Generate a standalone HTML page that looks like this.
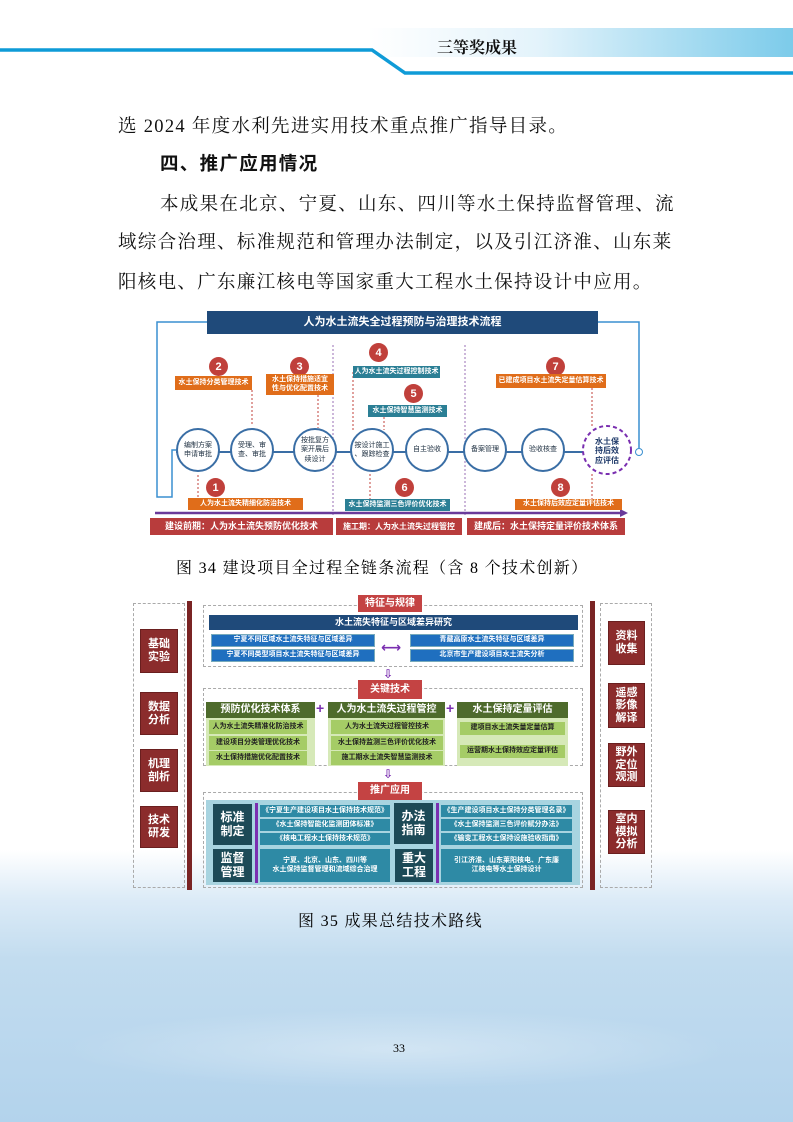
<!DOCTYPE html>
<html><head><meta charset="utf-8"><style>
*{margin:0;padding:0;box-sizing:border-box}
body{width:793px;height:1122px;position:relative;overflow:hidden;background:#fff;font-family:"Liberation Serif","Noto Serif CJK SC",serif}
.a{position:absolute}
.t{position:absolute;font-size:18.5px;color:#111;letter-spacing:1.3px;white-space:nowrap}
.s{font-family:"Liberation Sans","Noto Sans CJK SC",sans-serif;font-weight:bold;display:flex;align-items:center;justify-content:center;text-align:center;color:#fff;line-height:1.15}
.or{background:#e06d1a;font-size:7px}
.tl{background:#2b7f95;font-size:7px}
.num{position:absolute;width:19px;height:19px;border-radius:50%;background:#c0403b;color:#fff;font:bold 11px "Liberation Sans",sans-serif;display:flex;align-items:center;justify-content:center}
.cir{position:absolute;width:44px;height:44px;border-radius:50%;border:2.5px solid #3a6ea5;font:7px "Liberation Sans","Noto Sans CJK SC",sans-serif;color:#234;display:flex;align-items:center;justify-content:center;text-align:center;line-height:1.3;background:#fff}
.rb{background:#8b2c2c;font-size:11px;border:1px solid #6a1f1f}
.bl{background:#1f6fbf;font-size:7px;border:1px solid #7ab}
.gh{background:#4e6b2c;font-size:10px}
.lg{background:#a5cc66;color:#222;font-size:7px}
.dk{background:#1d4a57;font-size:12px}
.tb{background:#2e8aa5;font-size:7px}
.dot{position:absolute;border:1px dashed #aaa}
.tag{background:#c44343;font-size:10px}
</style></head><body>
<!-- bottom water -->
<div class="a" style="left:0;top:850px;width:793px;height:272px;background:linear-gradient(180deg,#ffffff 0%,#dcebf7 18%,#c2dcef 40%,#b3d3ec 100%)"></div>
<div class="a" style="left:0;top:960px;width:793px;height:162px;background:radial-gradient(ellipse 60% 35% at 50% 55%,rgba(255,255,255,.35),rgba(255,255,255,0) 70%)"></div>
<!-- header -->
<div class="a" style="left:368px;top:28px;width:425px;height:29px;background:linear-gradient(90deg,#fff,#e3f3fb 40%,#7ccbea)"></div>
<div class="a" style="left:437px;top:35px;font-size:16px;font-weight:bold;color:#111">三等奖成果</div>
<svg class="a" style="left:0;top:0" width="793" height="90"><polyline points="0,50 372,50 405,73 793,73" fill="none" stroke="#0f9bd7" stroke-width="3.5"/></svg>
<div class="a" style="left:393px;top:1041px;font-size:12px">33</div>
<!-- text -->
<div class="t" style="left:118px;top:112px">选 2024 年度水利先进实用技术重点推广指导目录。</div>
<div class="t" style="left:160px;top:150px;font-weight:bold;font-family:'Liberation Sans','Noto Sans CJK SC',sans-serif">四、推广应用情况</div>
<div class="t" style="left:160px;top:190px">本成果在北京、宁夏、山东、四川等水土保持监督管理、流</div>
<div class="t" style="left:118px;top:228px">域综合治理、标准规范和管理办法制定，以及引江济淮、山东莱</div>
<div class="t" style="left:118px;top:268px">阳核电、广东廉江核电等国家重大工程水土保持设计中应用。</div>
<!-- Fig 34 -->
<svg class="a" style="left:0;top:0" width="793" height="560">
<polyline points="207,322 157,322 157,497 172,497 172,450 176,450" fill="none" stroke="#3a8fd0" stroke-width="1.5"/>
<polyline points="598,322 639,322 639,448" fill="none" stroke="#3a8fd0" stroke-width="1.5"/>
<circle cx="639" cy="452" r="3.5" fill="#fff" stroke="#3a8fd0"/>
<line x1="333" y1="345" x2="333" y2="515" stroke="#9a6fb5" stroke-dasharray="2,2"/>
<line x1="465" y1="345" x2="465" y2="515" stroke="#9a6fb5" stroke-dasharray="2,2"/>
<line x1="155" y1="513" x2="622" y2="513" stroke="#6a3a9a" stroke-width="2.5"/>
<polygon points="628,513 620,509 620,517" fill="#6a3a9a"/>
<line x1="176" y1="452" x2="600" y2="452" stroke="#3a6ea5" stroke-width="2"/>
<circle cx="607" cy="450" r="24" fill="#fff" stroke="#7a2fb0" stroke-width="2" stroke-dasharray="4,3"/>
<g stroke="#c0403b" stroke-dasharray="2,2" fill="none">
<line x1="252" y1="390" x2="252" y2="426"/><line x1="318" y1="395" x2="318" y2="428"/>
<line x1="353" y1="372" x2="353" y2="432"/><line x1="384" y1="417" x2="384" y2="430"/>
<line x1="198" y1="475" x2="198" y2="498"/><line x1="370" y1="474" x2="370" y2="500"/>
<line x1="592" y1="388" x2="592" y2="426"/><line x1="592" y1="474" x2="592" y2="500"/></g>
</svg>
<div class="a s" style="left:207px;top:311px;width:391px;height:23px;background:#1f4a7a;font-size:11px">人为水土流失全过程预防与治理技术流程</div>
<div class="cir" style="left:176px;top:428px">编制方案<br>申请审批</div>
<div class="cir" style="left:230px;top:428px">受理、审<br>查、审批</div>
<div class="cir" style="left:293px;top:428px">按批复方<br>案开展后<br>续设计</div>
<div class="cir" style="left:350px;top:428px">按设计施工<br>、跟踪检查</div>
<div class="cir" style="left:405px;top:428px">自主验收</div>
<div class="cir" style="left:463px;top:428px">备案管理</div>
<div class="cir" style="left:521px;top:428px">验收核查</div>
<div class="a s" style="left:587px;top:432px;width:40px;height:38px;color:#1f3a6a;font-size:8px;font-weight:bold">水土保<br>持后效<br>应评估</div>
<div class="num" style="left:206px;top:478px">1</div>
<div class="num" style="left:209px;top:357px">2</div>
<div class="num" style="left:290px;top:357px">3</div>
<div class="num" style="left:369px;top:343px">4</div>
<div class="num" style="left:404px;top:384px">5</div>
<div class="num" style="left:395px;top:478px">6</div>
<div class="num" style="left:546px;top:357px">7</div>
<div class="num" style="left:551px;top:478px">8</div>
<div class="a s or" style="left:188px;top:498px;width:115px;height:12px">人为水土流失精细化防治技术</div>
<div class="a s or" style="left:175px;top:376px;width:77px;height:14px">水土保持分类管理技术</div>
<div class="a s or" style="left:266px;top:374px;width:68px;height:21px">水土保持措施适宜<br>性与优化配置技术</div>
<div class="a s tl" style="left:353px;top:366px;width:87px;height:12px">人为水土流失过程控制技术</div>
<div class="a s tl" style="left:368px;top:405px;width:79px;height:12px">水土保持智慧监测技术</div>
<div class="a s tl" style="left:345px;top:499px;width:105px;height:12px">水土保持监测三色评价优化技术</div>
<div class="a s or" style="left:496px;top:374px;width:110px;height:14px">已建成项目水土流失定量估算技术</div>
<div class="a s or" style="left:515px;top:499px;width:107px;height:11px">水土保持后效应定量评估技术</div>
<div class="a s" style="left:150px;top:518px;width:183px;height:17px;background:#b83c3c;font-size:9px">建设前期：人为水土流失预防优化技术</div>
<div class="a s" style="left:336px;top:518px;width:126px;height:17px;background:#b83c3c;font-size:8px">施工期：人为水土流失过程管控</div>
<div class="a s" style="left:467px;top:518px;width:158px;height:17px;background:#b83c3c;font-size:9px">建成后：水土保持定量评价技术体系</div>
<div class="a" style="left:176px;top:555px;font-size:16px;letter-spacing:1.3px;white-space:nowrap">图 34  建设项目全过程全链条流程（含 8 个技术创新）</div>
<!-- Fig 35 -->
<div class="dot" style="left:133px;top:603px;width:52px;height:285px"></div>
<div class="a" style="left:187px;top:601px;width:5px;height:289px;background:#7a2424"></div>
<div class="dot" style="left:600px;top:603px;width:52px;height:285px"></div>
<div class="a" style="left:590px;top:601px;width:5px;height:289px;background:#7a2424"></div>
<div class="a s rb" style="left:140px;top:629px;width:38px;height:44px">基础<br>实验</div>
<div class="a s rb" style="left:140px;top:692px;width:38px;height:43px">数据<br>分析</div>
<div class="a s rb" style="left:140px;top:749px;width:38px;height:43px">机理<br>剖析</div>
<div class="a s rb" style="left:140px;top:806px;width:38px;height:42px">技术<br>研发</div>
<div class="a s rb" style="left:608px;top:621px;width:37px;height:44px">资料<br>收集</div>
<div class="a s rb" style="left:608px;top:683px;width:37px;height:45px">遥感<br>影像<br>解译</div>
<div class="a s rb" style="left:608px;top:743px;width:37px;height:44px">野外<br>定位<br>观测</div>
<div class="a s rb" style="left:608px;top:810px;width:37px;height:44px">室内<br>模拟<br>分析</div>
<div class="dot" style="left:203px;top:605px;width:380px;height:62px"></div>
<div class="a s tag" style="left:358px;top:595px;width:64px;height:17px">特征与规律</div>
<div class="a s" style="left:209px;top:615px;width:369px;height:15px;background:#1f4a7a;font-size:9px">水土流失特征与区域差异研究</div>
<div class="a s bl" style="left:211px;top:634px;width:164px;height:13px">宁夏不同区域水土流失特征与区域差异</div>
<div class="a s bl" style="left:211px;top:649px;width:164px;height:13px">宁夏不同类型项目水土流失特征与区域差异</div>
<div class="a s bl" style="left:410px;top:634px;width:164px;height:13px">青藏高原水土流失特征与区域差异</div>
<div class="a s bl" style="left:410px;top:649px;width:164px;height:13px">北京市生产建设项目水土流失分析</div>
<div class="a" style="left:381px;top:640px;color:#7a2fb0;font:bold 14px 'DejaVu Sans',sans-serif">⟷</div>
<div class="a" style="left:383px;top:667px;color:#7a2fb0;font:bold 12px 'DejaVu Sans',sans-serif">⇩</div>
<div class="dot" style="left:203px;top:688px;width:380px;height:78px"></div>
<div class="a s tag" style="left:358px;top:680px;width:64px;height:19px">关键技术</div>
<div class="a s gh" style="left:206px;top:702px;width:109px;height:16px">预防优化技术体系</div>
<div class="a s gh" style="left:328px;top:702px;width:117px;height:16px">人为水土流失过程管控</div>
<div class="a s gh" style="left:457px;top:702px;width:111px;height:16px">水土保持定量评估</div>
<div class="a" style="left:316px;top:700px;color:#7a2fb0;font:bold 14px sans-serif">+</div>
<div class="a" style="left:446px;top:700px;color:#7a2fb0;font:bold 14px sans-serif">+</div>
<div class="a" style="left:206px;top:718px;width:109px;height:48px;background:#d6e9b8"></div>
<div class="a" style="left:328px;top:718px;width:117px;height:48px;background:#d6e9b8"></div>
<div class="a" style="left:457px;top:718px;width:111px;height:48px;background:#d6e9b8"></div>
<div class="a s lg" style="left:209px;top:720px;width:98px;height:14px">人为水土流失精准化防治技术</div>
<div class="a s lg" style="left:209px;top:736px;width:98px;height:14px">建设项目分类管理优化技术</div>
<div class="a s lg" style="left:209px;top:751px;width:98px;height:14px">水土保持措施优化配置技术</div>
<div class="a s lg" style="left:331px;top:720px;width:112px;height:14px">人为水土流失过程管控技术</div>
<div class="a s lg" style="left:331px;top:736px;width:112px;height:14px">水土保持监测三色评价优化技术</div>
<div class="a s lg" style="left:331px;top:751px;width:112px;height:14px">施工期水土流失智慧监测技术</div>
<div class="a s lg" style="left:460px;top:722px;width:105px;height:13px">建项目水土流失量定量估算</div>
<div class="a s lg" style="left:460px;top:745px;width:105px;height:13px">运营期水土保持效应定量评估</div>
<div class="a" style="left:383px;top:767px;color:#7a2fb0;font:bold 12px 'DejaVu Sans',sans-serif">⇩</div>
<div class="dot" style="left:203px;top:792px;width:380px;height:96px"></div>
<div class="a" style="left:206px;top:800px;width:374px;height:85px;background:#a8d4e0"></div>
<div class="a s tag" style="left:358px;top:782px;width:64px;height:18px">推广应用</div>
<div class="a s dk" style="left:213px;top:804px;width:39px;height:41px">标准<br>制定</div>
<div class="a s dk" style="left:213px;top:849px;width:39px;height:33px">监督<br>管理</div>
<div class="a s dk" style="left:394px;top:803px;width:39px;height:41px">办法<br>指南</div>
<div class="a s dk" style="left:395px;top:849px;width:38px;height:33px">重大<br>工程</div>
<div class="a" style="left:255px;top:803px;width:3px;height:80px;background:#7a2fb0"></div>
<div class="a" style="left:436px;top:803px;width:3px;height:80px;background:#7a2fb0"></div>
<div class="a s tb" style="left:260px;top:805px;width:130px;height:12px">《宁夏生产建设项目水土保持技术规范》</div>
<div class="a s tb" style="left:260px;top:819px;width:130px;height:12px">《水土保持智能化监测团体标准》</div>
<div class="a s tb" style="left:260px;top:833px;width:130px;height:12px">《核电工程水土保持技术规范》</div>
<div class="a s tb" style="left:260px;top:849px;width:130px;height:33px">宁夏、北京、山东、四川等<br>水土保持监督管理和流域综合治理</div>
<div class="a s tb" style="left:441px;top:805px;width:131px;height:12px">《生产建设项目水土保持分类管理名录》</div>
<div class="a s tb" style="left:441px;top:819px;width:131px;height:12px">《水土保持监测三色评价赋分办法》</div>
<div class="a s tb" style="left:441px;top:833px;width:131px;height:12px">《输变工程水土保持设施验收指南》</div>
<div class="a s tb" style="left:441px;top:849px;width:131px;height:33px">引江济淮、山东莱阳核电、广东廉<br>江核电等水土保持设计</div>
<div class="a" style="left:298px;top:908px;font-size:16px;letter-spacing:1.3px;white-space:nowrap">图 35  成果总结技术路线</div>
</body></html>
